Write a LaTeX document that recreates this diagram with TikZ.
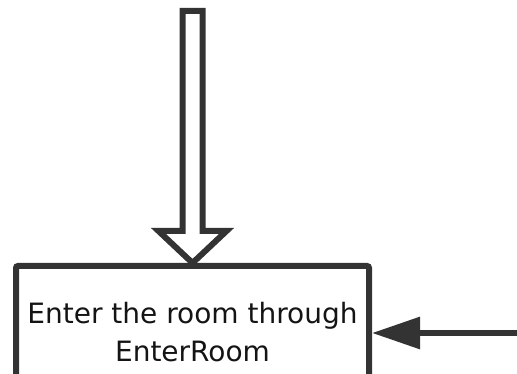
\documentclass[tikz,border=0pt]{standalone}
\usepackage{fontspec}
\setmainfont{DejaVu Sans}
\usetikzlibrary{arrows.meta}
\definecolor{linegray}{RGB}{51,51,51}
\definecolor{textgray}{RGB}{20,20,20}
\begin{document}
\begin{tikzpicture}[
  x=1pt, y=-1pt,
  box/.style={
    draw=linegray,
    line width=6pt,
    rounded corners=2pt,
    align=center,
    text=textgray,
    minimum width=353pt,
    minimum height=132pt,
    font=\fontsize{28}{38}\selectfont
  },
  arrow/.style={draw=linegray, line width=6pt, -{Triangle[length=48pt, width=31pt]}},
  hollow/.style={draw=linegray, line width=6pt, fill=white, line join=miter}
]
\useasboundingbox (0,0) rectangle (517,374);
\clip (0,0) rectangle (517,374);
\node[box] (enter) at (192.5,332) {Enter the room through\\EnterRoom};
\coordinate (from) at (520,333);

% hollow arrow coming in from the top
\draw[hollow] (enter.north) -- ++(-34,-32) -- ++(24,0) -- ++(0,-220)
  -- ++(20,0) -- ++(0,220) -- ++(24,0) -- cycle;
\draw[arrow] (from) -- (from -| enter.east);
\end{tikzpicture}
\end{document}
